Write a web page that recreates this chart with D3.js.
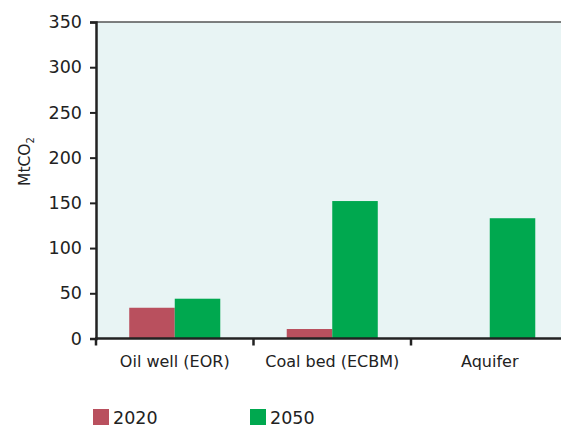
<!DOCTYPE html>
<html>
<head>
<meta charset="utf-8">
<script src="https://cdn.jsdelivr.net/npm/d3@7"></script>
<style>
  body { margin: 0; background: #fff; }
  text { font-family: "DejaVu Sans", Verdana, sans-serif; fill: #222; }
</style>
</head>
<body>
<div id="chart"></div>
<script>
var categories = ['Oil well (EOR)', 'Coal bed (ECBM)', 'Aquifer'];
var seriesNames = ['2020', '2050'];
var values2020 = [34, 10.5, 0];
var values2050 = [44, 152, 133];
var yTicks = [0, 50, 100, 150, 200, 250, 300, 350];
var colors = ['#B9505E', '#00A84F'];

var width = 561, height = 427;
var margin = {top: 22, left: 96, bottom: 88.5};
var plotRight = 568.5;

var svg = d3.select('#chart').append('svg')
    .attr('width', width)
    .attr('height', height);

var x = d3.scaleBand()
    .domain(categories)
    .range([margin.left, plotRight])
    .paddingInner(0)
    .paddingOuter(0);
var xs = d3.scaleBand()
    .domain(seriesNames)
    .range([0, x.bandwidth()])
    .paddingInner(0)
    .paddingOuter(0.73);
var y = d3.scaleLinear()
    .domain([0, 350])
    .range([height - margin.bottom, margin.top]);

// plot background
svg.append('rect')
    .attr('x', margin.left)
    .attr('y', margin.top)
    .attr('width', plotRight - margin.left)
    .attr('height', y(0) - margin.top)
    .attr('fill', '#E8F4F4');

// top border
svg.append('line')
    .attr('x1', margin.left).attr('x2', plotRight)
    .attr('y1', margin.top).attr('y2', margin.top)
    .attr('stroke', '#555').attr('stroke-width', 1.5);

// bars
var rows = categories.map(function (c, i) {
    return {cat: c, vals: [values2020[i], values2050[i]]};
});
var g = svg.selectAll('.cat')
    .data(rows)
    .enter().append('g')
    .attr('class', 'cat')
    .attr('transform', function (d) { return 'translate(' + x(d.cat) + ',0)'; });
g.selectAll('rect')
    .data(function (d) { return d.vals.map(function (v, j) { return {s: seriesNames[j], v: v, j: j}; }); })
    .enter().append('rect')
    .attr('x', function (d) { return xs(d.s); })
    .attr('y', function (d) { return y(d.v); })
    .attr('width', xs.bandwidth())
    .attr('height', function (d) { return y(0) - y(d.v); })
    .attr('fill', function (d) { return colors[d.j]; });

// y axis
var yAxis = svg.append('g')
    .attr('transform', 'translate(' + margin.left + ',0)')
    .call(d3.axisLeft(y).tickValues(yTicks).tickSize(6).tickPadding(8));
yAxis.select('.domain').attr('stroke', '#222').attr('stroke-width', 2.5);
yAxis.selectAll('.tick line').attr('stroke', '#222').attr('stroke-width', 2);
yAxis.selectAll('.tick text')
    .style('font-size', '17.5px')
    .style('font-family', '"DejaVu Sans", sans-serif')
    .attr('fill', '#222');

// x axis: ticks at category boundaries
var xAxisG = svg.append('g')
    .attr('transform', 'translate(0,' + y(0) + ')');
xAxisG.append('line')
    .attr('x1', margin.left - 1).attr('x2', plotRight)
    .attr('stroke', '#222').attr('stroke-width', 2.5);
xAxisG.selectAll('.bt')
    .data(categories)
    .enter().append('line')
    .attr('class', 'bt')
    .attr('x1', function (d) { return x(d); })
    .attr('x2', function (d) { return x(d); })
    .attr('y1', 0).attr('y2', 7)
    .attr('stroke', '#222').attr('stroke-width', 2.5);
xAxisG.selectAll('.cl')
    .data(categories)
    .enter().append('text')
    .attr('class', 'cl')
    .attr('x', function (d) { return x(d) + x.bandwidth() / 2; })
    .attr('y', 28)
    .attr('text-anchor', 'middle')
    .style('font-size', '16px')
    .text(function (d) { return d; });

// y axis title
var yt = svg.append('text')
    .attr('transform', 'translate(30,161.5) rotate(-90)')
    .attr('text-anchor', 'middle')
    .style('font-size', '15.5px');
yt.append('tspan').text('MtCO');
yt.append('tspan').attr('dy', 4).style('font-size', '10px').text('2');

// legend
var legendX = [93, 250];
var lg = svg.selectAll('.lg')
    .data(seriesNames)
    .enter().append('g')
    .attr('class', 'lg')
    .attr('transform', function (d, i) { return 'translate(' + legendX[i] + ',409)'; });
lg.append('rect')
    .attr('width', 16).attr('height', 16)
    .attr('fill', function (d, i) { return colors[i]; });
lg.append('text')
    .attr('x', 20).attr('y', 15)
    .style('font-size', '17.5px')
    .text(function (d) { return d; });
</script>
</body>
</html>
